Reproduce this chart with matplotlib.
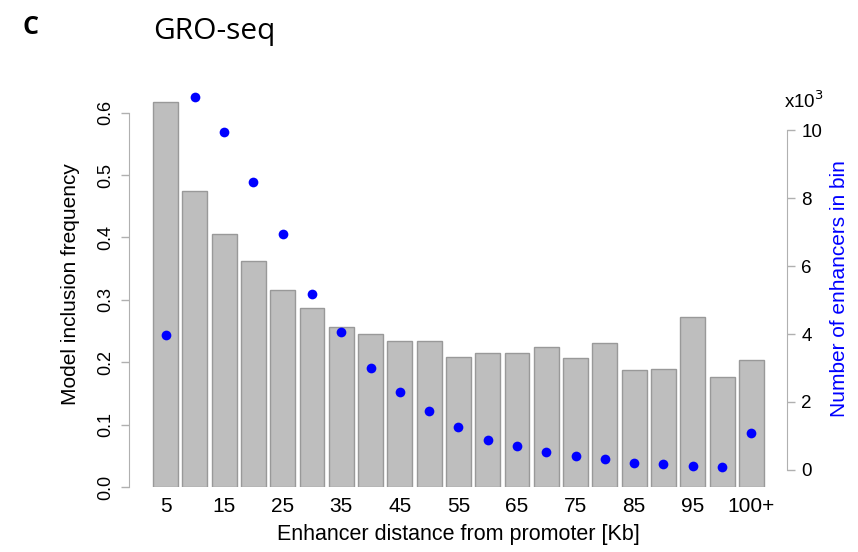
import matplotlib
matplotlib.use("Agg")
import matplotlib.pyplot as plt
import numpy as np

bins = ["5", "10", "15", "20", "25", "30", "35", "40", "45", "50", "55",
        "60", "65", "70", "75", "80", "85", "90", "95", "100", "100+"]
inclusion_freq = [0.617, 0.475, 0.405, 0.362, 0.316, 0.287, 0.256, 0.245,
                  0.234, 0.234, 0.208, 0.215, 0.214, 0.225, 0.207, 0.230,
                  0.188, 0.189, 0.272, 0.176, 0.204]
n_enhancers_k = [3.97, 10.98, 9.93, 8.48, 6.94, 5.19, 4.07, 3.01, 2.30, 1.74,
                 1.27, 0.88, 0.71, 0.52, 0.42, 0.31, 0.20, 0.19, 0.13, 0.09, 1.10]
shown_labels = ["5", "15", "25", "35", "45", "55", "65", "75", "85", "95", "100+"]
left_ticks = [0.0, 0.1, 0.2, 0.3, 0.4, 0.5, 0.6]
right_ticks = [0, 2, 4, 6, 8, 10]

plt.rcParams['font.family'] = ['Liberation Sans', 'DejaVu Sans']

W, H = 858, 552
fig = plt.figure(figsize=(W / 100, H / 100), dpi=100)
ax_left_px, ax_right_px = 128.6, 787.4
ax_top_px, ax_bot_px = 90, 487
ax = fig.add_axes([ax_left_px / W, (H - ax_bot_px) / H,
                   (ax_right_px - ax_left_px) / W, (ax_bot_px - ax_top_px) / H])

x = np.arange(len(bins))
ax.bar(x, inclusion_freq, width=0.85, color="#bebebe", edgecolor="#999999",
       linewidth=1.0, zorder=1)
ax.set_xlim(-1.26, 21.23)
ax.set_ylim(0, (ax_bot_px - ax_top_px) / 624.0)

grey = "#b0b0b0"
for s in ["top", "right", "bottom"]:
    ax.spines[s].set_visible(False)
ax.spines["left"].set_bounds(0, 0.6)
ax.spines["left"].set_color(grey)
ax.set_yticks(left_ticks)
ax.set_yticklabels([f"{v:.1f}" for v in left_ticks], rotation=90, va="center",
                   fontsize=13)
ax.tick_params(axis="y", color=grey, length=6, width=1, pad=4)
ax.set_ylabel("Model inclusion frequency", fontsize=15)
ax.yaxis.set_label_coords(-0.074, 0.51)

pos = [bins.index(l) for l in shown_labels]
ax.set_xticks(pos)
ax.set_xticklabels(shown_labels, fontsize=15)
ax.tick_params(axis="x", length=0, pad=7)
ax.set_xlabel("Enhancer distance from promoter [Kb]", fontsize=15.5, labelpad=6)

ax2 = ax.twinx()
ax2.set_xlim(ax.get_xlim())
ax2.set_ylim(-(ax_bot_px - 470) / 34.0, (470 - ax_top_px) / 34.0)
ax2.plot(x, n_enhancers_k, "o", color="#0000ff", markersize=7, zorder=3,
         markeredgewidth=0)
for s in ["top", "left", "bottom"]:
    ax2.spines[s].set_visible(False)
ax2.spines["right"].set_bounds(0, 10)
ax2.spines["right"].set_color(grey)
ax2.set_yticks(right_ticks)
ax2.set_yticklabels([str(v) for v in right_ticks], fontsize=13.5)
ax2.tick_params(axis="y", color=grey, length=6, width=1, pad=4)
ax2.set_ylabel("Number of enhancers in bin", fontsize=15, color="#0000ff",
               labelpad=6)
ax2.text(-3 / (ax_right_px - ax_left_px) + 1.0, 10.85, r"x10$^3$",
         transform=ax2.get_yaxis_transform(), fontsize=13.5,
         ha="left", va="center")

fig.text(22 / W, 1 - 28 / H, "C", fontsize=18, fontweight="bold",
         family=["Open Sans", "DejaVu Sans"], ha="left", va="center")
fig.text(153 / W, 1 - 31 / H, "GRO-seq", fontsize=21.5,
         family=["Open Sans", "DejaVu Sans"], ha="left", va="center")

fig.savefig("out.png", dpi=100)
